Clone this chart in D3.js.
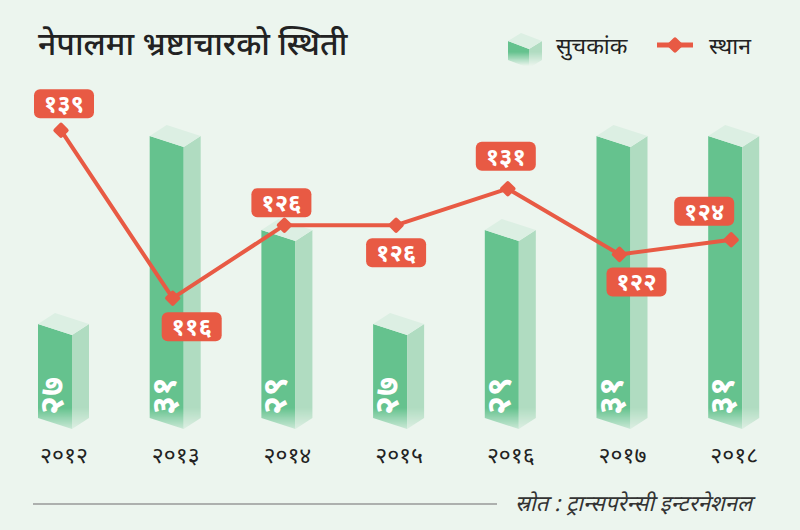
<!DOCTYPE html>
<html>
<head>
<meta charset="utf-8">
<script src="https://cdn.jsdelivr.net/npm/d3@7"></script>
<style>
  html, body { margin: 0; padding: 0; background: #ecf5ee; }
  svg { display: block; }
  text { font-family: "Noto Sans Devanagari", "Mukta", "Lohit Devanagari", "Noto Sans", sans-serif; }
</style>
</head>
<body>
<svg id="chart" width="800" height="530"></svg>
<script>
// ---- data ----
const years = ["२०१२", "२०१३", "२०१४", "२०१५", "२०१६", "२०१७", "२०१८"];
const indexValues = [27, 31, 29, 27, 29, 31, 31];        // सुचकांक
const rankValues = [139, 116, 126, 126, 131, 122, 124];  // स्थान
const titleText = "नेपालमा भ्रष्टाचारको स्थिती";
const legendLabels = ["सुचकांक", "स्थान"];
const sourceText = "स्रोत : ट्रान्सपरेन्सी इन्टरनेशनल";

const devDigits = "०१२३४५६७८९";
const toDev = n => String(n).replace(/[0-9]/g, d => devDigits[+d]);

// ---- style ----
const W = 800, H = 530;
const bg = "#ecf5ee";
const cFront = "#65c28e", cSide = "#b0dcc1", cTop = "#dcefe3";
const cRed = "#e85a44";

const svg = d3.select("#chart");
svg.append("rect").attr("width", W).attr("height", H).attr("fill", bg);

const defs = svg.append("defs");
const grad = defs.append("linearGradient").attr("id", "fadeGrad")
  .attr("gradientUnits", "userSpaceOnUse").attr("x1", 0).attr("x2", 0).attr("y1", 408).attr("y2", 436);
grad.append("stop").attr("offset", 0).attr("stop-color", "#fff").attr("stop-opacity", 1);
grad.append("stop").attr("offset", 1).attr("stop-color", "#fff").attr("stop-opacity", 0);
defs.append("mask").attr("id", "fadeMask").attr("maskUnits", "userSpaceOnUse")
  .attr("x", 0).attr("y", 0).attr("width", W).attr("height", H)
  .append("rect").attr("width", W).attr("height", H).attr("fill", "url(#fadeGrad)");

const gradL = defs.append("linearGradient").attr("id", "fadeGradL")
  .attr("gradientUnits", "userSpaceOnUse").attr("x1", 0).attr("x2", 0).attr("y1", 52).attr("y2", 66);
gradL.append("stop").attr("offset", 0).attr("stop-color", "#fff").attr("stop-opacity", 1);
gradL.append("stop").attr("offset", 1).attr("stop-color", "#fff").attr("stop-opacity", 0);
defs.append("mask").attr("id", "fadeMaskL").attr("maskUnits", "userSpaceOnUse")
  .attr("x", 0).attr("y", 0).attr("width", W).attr("height", H)
  .append("rect").attr("width", W).attr("height", H).attr("fill", "url(#fadeGradL)");

// ---- scales ----
const x = d3.scalePoint().domain(years).range([61, 731.2]);
const yBar = d3.scaleLinear().domain([25, 33]).range([418, 42]);
const yRank = d3.scaleLinear().domain([100, 140]).range([415, 123]);

// 3D box geometry
const FW = 34, SW = 17, SL = 11;
function boxFaces(L, yT, yB, fw, sw, sl) {
  return {
    front: [[L, yT], [L + fw, yT + sl], [L + fw, yB + sl], [L, yB]],
    side: [[L + fw, yT + sl], [L + fw + sw, yT], [L + fw + sw, yB], [L + fw, yB + sl]],
    top: [[L, yT], [L + sw, yT - sl], [L + fw + sw, yT], [L + fw, yT + sl]]
  };
}
const poly = pts => "M" + pts.map(p => p.join(",")).join("L") + "Z";

// ---- title ----
svg.append("text").attr("x", 38).attr("y", 55)
  .attr("font-size", 32).attr("font-weight", 500).attr("fill", "#222")
  .text(titleText);

// ---- legend ----
const lg = svg.append("g");
const lb = boxFaces(508, 41, 60, 21, 13, 8);
const lbg = lg.append("g").attr("mask", "url(#fadeMaskL)");
lbg.append("path").attr("d", poly(lb.front)).attr("fill", cFront);
lbg.append("path").attr("d", poly(lb.side)).attr("fill", cSide);
lbg.append("path").attr("d", poly(lb.top)).attr("fill", cTop);
lg.append("text").attr("x", 556).attr("y", 54).attr("font-size", 23).attr("fill", "#222").text(legendLabels[0]);
lg.append("line").attr("x1", 657).attr("x2", 693).attr("y1", 45).attr("y2", 45)
  .attr("stroke", cRed).attr("stroke-width", 5);
lg.append("rect").attr("x", -6).attr("y", -6).attr("width", 12).attr("height", 12).attr("rx", 2)
  .attr("fill", cRed).attr("transform", "translate(675,45) rotate(45)");
lg.append("text").attr("x", 709).attr("y", 54).attr("font-size", 23).attr("fill", "#222").text(legendLabels[1]);

// ---- bars ----
const barG = svg.append("g").attr("mask", "url(#fadeMask)");
years.forEach((yr, i) => {
  const L = x(yr) - 23;
  const f = boxFaces(L, yBar(indexValues[i]), yBar(25), FW, SW, SL);
  const g = barG.append("g");
  g.append("path").attr("d", poly(f.front)).attr("fill", cFront);
  g.append("path").attr("d", poly(f.side)).attr("fill", cSide);
  g.append("path").attr("d", poly(f.top)).attr("fill", cTop);
});
// value labels inside bars (rotated)
svg.append("g").selectAll("text").data(years).join("text")
  .attr("transform", d => `translate(${x(d) + 2},${415}) rotate(-90)`)
  .attr("font-size", 34).attr("font-weight", 700).attr("fill", "#fff")
  .text((d, i) => toDev(indexValues[i]));

// year axis labels
svg.append("g").selectAll("text").data(years).join("text")
  .attr("x", d => x(d) + 3).attr("y", 463).attr("text-anchor", "middle")
  .attr("font-size", 23).attr("fill", "#222").text(d => d);

// ---- rank line ----
const line = d3.line().x((d, i) => x(years[i])).y(d => yRank(d));
svg.append("path").datum(rankValues).attr("d", line)
  .attr("fill", "none").attr("stroke", cRed).attr("stroke-width", 4).attr("stroke-linejoin", "round");
svg.append("g").selectAll("rect").data(rankValues).join("rect")
  .attr("x", -6).attr("y", -6).attr("width", 12).attr("height", 12).attr("rx", 2)
  .attr("fill", cRed)
  .attr("transform", (d, i) => `translate(${x(years[i])},${yRank(d)}) rotate(45)`);

// rank labels (placement: dx from point, box top/bottom offset)
const labelPlace = [
  { dx: 3, above: true, off: 12 },
  { dx: 19, above: false, off: 14 },
  { dx: -3, above: true, off: 8 },
  { dx: 0, above: false, off: 13 },
  { dx: -2, above: true, off: 18 },
  { dx: 17, above: false, off: 13 },
  { dx: -27, above: true, off: 14 }
];
const BW = 60, BH = 29;
const lab = svg.append("g").selectAll("g").data(rankValues).join("g")
  .attr("transform", (d, i) => {
    const p = labelPlace[i];
    const cx = x(years[i]) + p.dx;
    const top = p.above ? yRank(d) - p.off - BH : yRank(d) + p.off;
    return `translate(${cx},${top})`;
  });
lab.append("rect").attr("x", -BW / 2).attr("y", 0).attr("width", BW).attr("height", BH).attr("rx", 6)
  .attr("fill", cRed);
lab.append("text").attr("x", 0).attr("y", 23).attr("text-anchor", "middle")
  .attr("font-size", 24).attr("font-weight", 700).attr("fill", "#fff")
  .text(d => toDev(d));

// ---- source ----
svg.append("line").attr("x1", 33).attr("x2", 497).attr("y1", 504).attr("y2", 504)
  .attr("stroke", "#999").attr("stroke-width", 1.5);
svg.append("text").attr("x", 515).attr("y", 511).attr("font-size", 22).attr("font-style", "italic")
  .attr("fill", "#333").text(sourceText);
</script>
</body>
</html>
